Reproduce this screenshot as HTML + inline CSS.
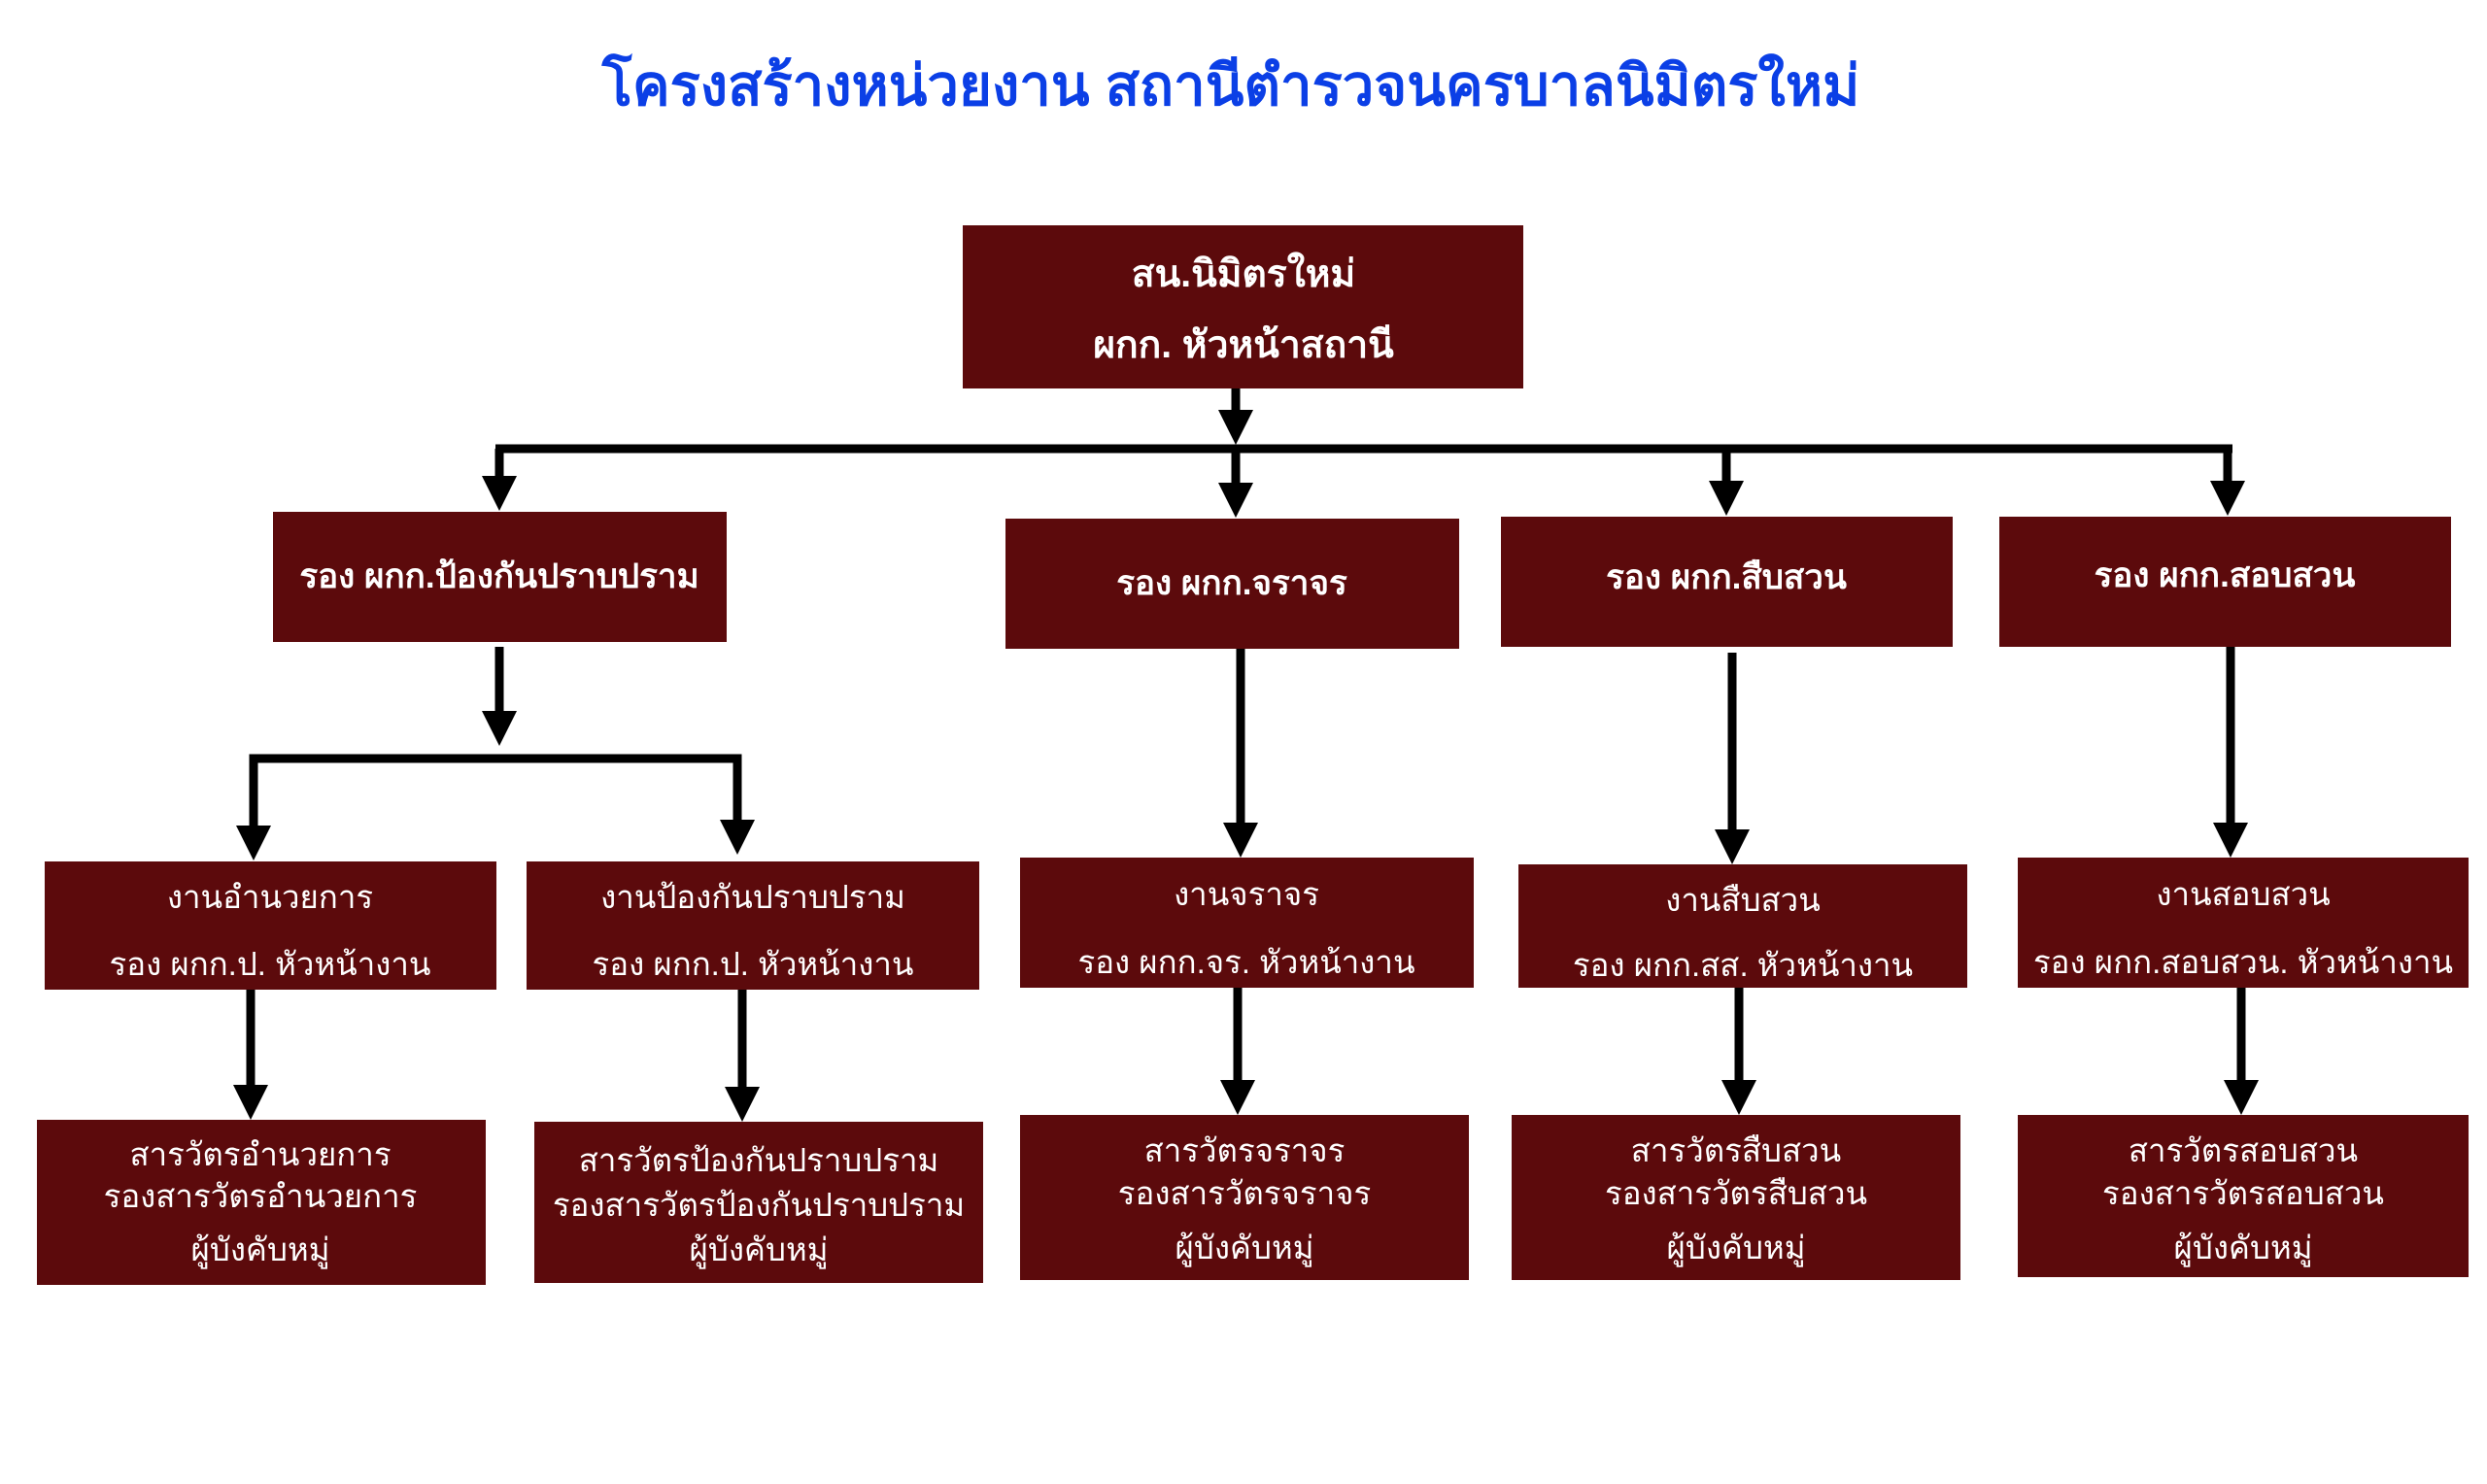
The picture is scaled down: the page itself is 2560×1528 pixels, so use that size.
<!DOCTYPE html>
<html><head><meta charset="utf-8"><style>
html,body{margin:0;padding:0;background:#fff;}
svg{display:block;}
text{font-family:"Liberation Sans","DejaVu Sans","Noto Sans CJK SC",sans-serif;fill:#fff;text-anchor:middle;}
</style></head><body>
<svg width="2560" height="1528" viewBox="0 0 2560 1528" xmlns="http://www.w3.org/2000/svg">
<defs>
<marker id="ar" markerWidth="4" markerHeight="4" refX="2" refY="2" orient="auto" markerUnits="strokeWidth">
<path d="M0,0 L4,2 L0,4 z" fill="#000"/></marker>
</defs>
<text x="1267" y="108" style="fill:#0b3fe6;font-size:58px;font-weight:bold">โครงสร้างหน่วยงาน สถานีตำรวจนครบาลนิมิตรใหม่</text>

<g fill="#5c0a0c">
<rect x="991" y="232" width="577" height="168"/>
<rect x="281" y="527" width="467" height="134"/>
<rect x="1035" y="534" width="467" height="134"/>
<rect x="1545" y="532" width="465" height="134"/>
<rect x="2058" y="532" width="465" height="134"/>
<rect x="46" y="887" width="465" height="132"/>
<rect x="542" y="887" width="466" height="132"/>
<rect x="1050" y="883" width="467" height="134"/>
<rect x="1563" y="890" width="462" height="127"/>
<rect x="2077" y="883" width="464" height="134"/>
<rect x="38" y="1153" width="462" height="170"/>
<rect x="550" y="1155" width="462" height="166"/>
<rect x="1050" y="1148" width="462" height="170"/>
<rect x="1556" y="1148" width="462" height="170"/>
<rect x="2077" y="1148" width="464" height="167"/>
</g>

<g stroke="#000" stroke-width="9" fill="none">
<line x1="1272" y1="400" x2="1272" y2="440" marker-end="url(#ar)"/>
<line x1="510" y1="462" x2="2298" y2="462"/>
<line x1="514" y1="462" x2="514" y2="508" marker-end="url(#ar)"/>
<line x1="1272" y1="462" x2="1272" y2="515" marker-end="url(#ar)"/>
<line x1="1777" y1="462" x2="1777" y2="513" marker-end="url(#ar)"/>
<line x1="2293" y1="462" x2="2293" y2="513" marker-end="url(#ar)"/>
<line x1="514" y1="666" x2="514" y2="750" marker-end="url(#ar)"/>
<polyline points="261,868 261,781 759,781 759,862"/>
<line x1="261" y1="840" x2="261" y2="868" marker-end="url(#ar)"/>
<line x1="759" y1="840" x2="759" y2="862" marker-end="url(#ar)"/>
<line x1="1277" y1="668" x2="1277" y2="865" marker-end="url(#ar)"/>
<line x1="1783" y1="672" x2="1783" y2="872" marker-end="url(#ar)"/>
<line x1="2296" y1="666" x2="2296" y2="865" marker-end="url(#ar)"/>
<line x1="258" y1="1019" x2="258" y2="1135" marker-end="url(#ar)"/>
<line x1="764" y1="1019" x2="764" y2="1137" marker-end="url(#ar)"/>
<line x1="1274" y1="1017" x2="1274" y2="1130" marker-end="url(#ar)"/>
<line x1="1790" y1="1017" x2="1790" y2="1130" marker-end="url(#ar)"/>
<line x1="2307" y1="1017" x2="2307" y2="1130" marker-end="url(#ar)"/>
</g>

<g style="font-size:39px;font-weight:bold">
<text x="1280" y="295">สน.นิมิตรใหม่</text>
<text x="1280" y="368">ผกก. หัวหน้าสถานี</text>
</g>
<g style="font-size:35px;font-weight:bold">
<text x="514" y="605">รอง ผกก.ป้องกันปราบปราม</text>
<text x="1268" y="612">รอง ผกก.จราจร</text>
<text x="1777" y="606">รอง ผกก.สืบสวน</text>
<text x="2290" y="604">รอง ผกก.สอบสวน</text>
</g>
<g style="font-size:33px">
<text x="278" y="935">งานอำนวยการ</text>
<text x="278" y="1004">รอง ผกก.ป. หัวหน้างาน</text>
<text x="775" y="935">งานป้องกันปราบปราม</text>
<text x="775" y="1004">รอง ผกก.ป. หัวหน้างาน</text>
<text x="1283" y="932">งานจราจร</text>
<text x="1283" y="1002">รอง ผกก.จร. หัวหน้างาน</text>
<text x="1794" y="938">งานสืบสวน</text>
<text x="1794" y="1005">รอง ผกก.สส. หัวหน้างาน</text>
<text x="2309" y="932">งานสอบสวน</text>
<text x="2309" y="1002">รอง ผกก.สอบสวน. หัวหน้างาน</text>

<text x="268" y="1200">สารวัตรอำนวยการ</text>
<text x="268" y="1243">รองสารวัตรอำนวยการ</text>
<text x="268" y="1298">ผู้บังคับหมู่</text>
<text x="781" y="1206">สารวัตรป้องกันปราบปราม</text>
<text x="781" y="1252">รองสารวัตรป้องกันปราบปราม</text>
<text x="781" y="1298">ผู้บังคับหมู่</text>
<text x="1281" y="1196">สารวัตรจราจร</text>
<text x="1281" y="1240">รองสารวัตรจราจร</text>
<text x="1281" y="1296">ผู้บังคับหมู่</text>
<text x="1787" y="1196">สารวัตรสืบสวน</text>
<text x="1787" y="1240">รองสารวัตรสืบสวน</text>
<text x="1787" y="1296">ผู้บังคับหมู่</text>
<text x="2309" y="1196">สารวัตรสอบสวน</text>
<text x="2309" y="1240">รองสารวัตรสอบสวน</text>
<text x="2309" y="1296">ผู้บังคับหมู่</text>
</g>
</svg>
</body></html>
